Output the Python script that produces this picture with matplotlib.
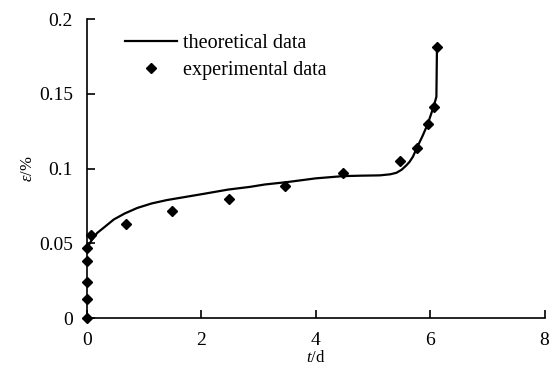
import matplotlib.pyplot as plt

# ============================================================
# Data
# ============================================================

t_theory = [0.02, 0.08, 0.18, 0.31, 0.47, 0.66, 0.88, 1.13, 1.40, 1.71,
            2.05, 2.47, 2.85, 3.11, 3.5, 4.0, 4.48, 4.8, 5.12, 5.3,
            5.41, 5.5, 5.58, 5.64, 5.7, 5.77, 5.87, 5.96, 6.06, 6.11,
            6.12]
eps_theory = [0.048, 0.052, 0.057, 0.061, 0.066, 0.070, 0.0737, 0.0767,
              0.079, 0.081, 0.0832, 0.086, 0.0878, 0.0894, 0.091, 0.0935,
              0.095, 0.0953, 0.0955, 0.0962, 0.0972, 0.0992, 0.102, 0.1045,
              0.108, 0.114, 0.122, 0.130, 0.1413, 0.148, 0.181]

t_exp = [0, 0, 0, 0, 0, 0.08, 0.68, 1.48, 2.48, 3.47, 4.48, 5.47, 5.77,
         5.96, 6.06, 6.12]
eps_exp = [0.0, 0.013, 0.024, 0.038, 0.0466, 0.0555, 0.063, 0.0716, 0.080,
           0.0885, 0.0968, 0.105, 0.114, 0.130, 0.141, 0.181]

x_ticks = [0, 2, 4, 6, 8]
y_ticks = [0, 0.05, 0.1, 0.15, 0.2]
y_labels = ["0", "0.05", "0.1", "0.15", "0.2"]

# ============================================================
# Figure
# ============================================================

plt.rcParams["font.family"] = ["Liberation Serif", "DejaVu Serif"]
plt.rcParams["mathtext.fontset"] = "custom"
plt.rcParams["mathtext.it"] = "Liberation Serif:italic"
plt.rcParams["mathtext.rm"] = "Liberation Serif"

fig = plt.figure(figsize=(5.5, 3.67), dpi=100)
ax = fig.add_axes([0.158, 0.133, 0.832, 0.815])

ax.plot(t_theory, eps_theory, color="black", lw=1.6,
        label="theoretical data")
ax.plot(t_exp, eps_exp, linestyle="none", marker="D", color="black",
        markersize=5, label="experimental data", clip_on=False, zorder=3)

ax.set_xlim(0, 8)
ax.set_ylim(0, 0.2)
ax.set_xticks(x_ticks)
ax.set_yticks(y_ticks)
ax.set_yticklabels(y_labels)

for side in ["top", "right"]:
    ax.spines[side].set_visible(False)
for side in ["left", "bottom"]:
    ax.spines[side].set_linewidth(1.2)

ax.tick_params(direction="in", length=6, width=1.2, labelsize=14, pad=10)

ax.set_xlabel(r"$t$/d", fontsize=12, labelpad=1)
ax.set_ylabel(r"$\varepsilon$/%", fontsize=12, labelpad=2)

ax.legend(loc="upper left", bbox_to_anchor=(0.043, 1.01), frameon=False,
          fontsize=14.5, handlelength=2.6, handletextpad=0.3,
          labelspacing=0.4)

fig.savefig("out.png", dpi=100)
